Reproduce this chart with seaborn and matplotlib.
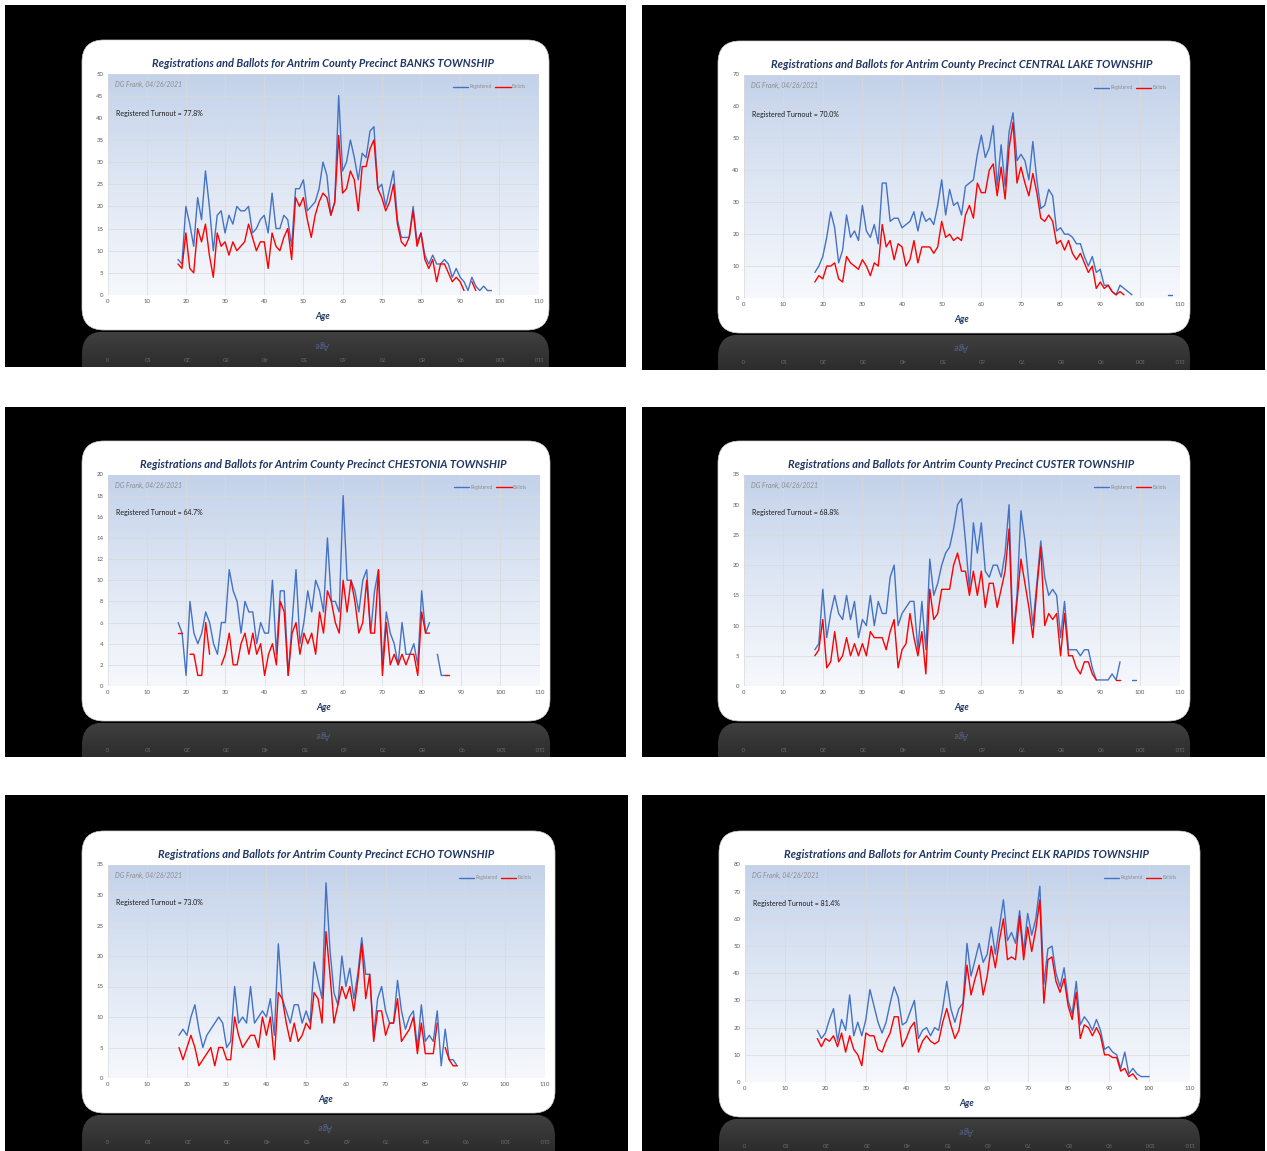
import numpy as np
import pandas as pd
import matplotlib
matplotlib.use("Agg")
import matplotlib.pyplot as plt
from matplotlib.patches import Rectangle, FancyBboxPatch
from matplotlib.lines import Line2D
from matplotlib.colors import LinearSegmentedColormap
import seaborn as sns

# ---- data (ages start at 18, None = no point) ----
START_AGE = 18

banks_registered = [8, 7, 20, 16, 11, 22, 17, 28, 20, 10,
                    18, 19, 14, 18, 16, 20, 19, 19, 20, 14,
                    15, 17, 18, 14, 23, 15, 15, 18, 17, 11,
                    24, 24, 26, 19, 20, 21, 24, 30, 27, 18,
                    21, 45, 28, 30, 35, 31, 26, 32, 31, 37,
                    38, 24, 25, 20, 24, 28, 17, 13, 13, 13,
                    20, 12, 14, 9, 7, 9, 7, 7, 8, 7,
                    4, 6, 4, 3, 1, 4, 2, 1, 2, 1, 1]
banks_ballots = [7, 6, 14, 6, 5, 15, 12, 16, 9, 4,
                 14, 11, 12, 9, 12, 10, 11, 12, 16, 13,
                 10, 12, 12, 6, 14, 11, 10, 13, 15, 8,
                 22, 20, 22, 17, 13, 18, 21, 23, 22, 18,
                 21, 36, 23, 24, 28, 26, 19, 29, 29, 33,
                 35, 24, 22, 19, 21, 25, 16, 12, 11, 13,
                 19, 11, 14, 8, 6, 8, 3, 7, 7, 5,
                 3, 4, 3, 1, None, 3, 1]

central_registered = [8, 10, 13, 19, 27, 22, 11, 15, 26, 19,
                      21, 18, 29, 21, 19, 23, 17, 36, 36, 24,
                      25, 25, 22, 23, 24, 27, 21, 27, 24, 25,
                      23, 29, 37, 26, 34, 29, 30, 26, 35, 36,
                      37, 45, 51, 44, 47, 54, 35, 48, 35, 52,
                      58, 43, 45, 43, 37, 49, 37, 28, 29, 34,
                      32, 21, 22, 20, 20, 19, 17, 17, 13, 10,
                      13, 8, 9, 4, 4, 2, 1, 4, 3, 2, 1,
                      None, None, None, None, None, None, None, None, 1, 1]
central_ballots = [5, 7, 6, 10, 10, 11, 6, 5, 13, 11,
                   10, 9, 12, 10, 7, 11, 10, 23, 16, 18,
                   12, 17, 16, 10, 12, 18, 11, 16, 16, 16,
                   14, 16, 24, 19, 20, 18, 19, 18, 26, 29,
                   25, 36, 33, 33, 40, 42, 32, 41, 31, 47,
                   55, 36, 41, 36, 32, 39, 33, 25, 24, 26,
                   24, 17, 18, 15, 18, 14, 12, 14, 11, 8,
                   10, 3, 5, 3, 4, 2, 1, 2, 1]

chestonia_registered = [6, 5, 1, 8, 5, 4, 5, 7, 6, 4,
                        3, 6, 6, 11, 9, 8, 5, 8, 7, 7,
                        4, 6, 5, 5, 10, 3, 9, 9, 1, 6,
                        11, 4, 6, 9, 7, 10, 9, 7, 14, 8,
                        8, 7, 18, 10, 10, 9, 7, 10, 11, 5,
                        9, 11, 2, 7, 5, 4, 2, 6, 3, 3,
                        4, 2, 9, 5, 6, None, 3, 1, 1]
chestonia_ballots = [5, 5, None, 3, 3, 1, 1, 6, 3, None,
                     None, 2, 3, 5, 2, 2, 4, 5, 3, 5,
                     3, 4, 1, 3, 4, 2, 8, 7, 1, 5,
                     6, 3, 5, 4, 5, 3, 7, 5, 9, 8,
                     6, 5, 10, 7, 10, 8, 5, 6, 10, 5,
                     5, 11, 1, 6, 2, 3, 2, 3, 2, 3,
                     3, 1, 7, 5, 5, None, None, None, 1, 1]

custer_registered = [6, 7, 16, 8, 12, 15, 12, 11, 15, 11,
                     14, 8, 11, 10, 15, 10, 14, 12, 12, 18,
                     20, 10, 12, 13, 14, 14, 6, 14, 6, 21,
                     15, 17, 20, 22, 23, 26, 30, 31, 24, 16,
                     27, 22, 27, 19, 18, 20, 20, 18, 22, 30,
                     8, 15, 29, 24, 17, 10, 17, 24, 18, 15,
                     16, 15, 8, 14, 6, 6, 6, 5, 6, 6,
                     3, 1, 1, 1, 1, 2, 1, 4, None, None, 1, 1]
custer_ballots = [5, 6, 11, 3, 4, 9, 4, 5, 8, 5,
                  7, 5, 7, 5, 9, 8, 8, 8, 6, 9,
                  11, 3, 6, 7, 12, 8, 5, 9, 2, 16,
                  11, 12, 16, 16, 16, 20, 22, 19, 19, 15,
                  19, 15, 19, 13, 17, 17, 13, 16, 19, 26,
                  7, 14, 21, 17, 13, 8, 16, 23, 10, 12,
                  11, 12, 5, 12, 5, 5, 3, 2, 4, 4,
                  2, 1, None, None, None, None, 1, 1]

echo_registered = [7, 8, 7, 10, 12, 8, 5, 7, 8, 9,
                   10, 9, 5, 6, 15, 9, 10, 9, 15, 9,
                   10, 11, 10, 13, 7, 22, 13, 11, 9, 12,
                   12, 9, 11, 9, 19, 16, 13, 32, 21, 14,
                   12, 20, 15, 18, 13, 17, 23, 17, 17, 7,
                   13, 15, 11, 9, 9, 16, 11, 8, 10, 11,
                   5, 12, 6, 7, 6, 11, 2, 8, 3, 3, 2]
echo_ballots = [5, 3, 5, 7, 5, 2, 3, 4, 5, 2,
                5, 5, 3, 3, 10, 7, 5, 6, 7, 7,
                5, 10, 7, 10, 3, 14, 13, 9, 6, 9,
                6, 7, 9, 8, 14, 13, 9, 24, 17, 9,
                12, 15, 13, 15, 11, 16, 22, 13, 17, 6,
                11, 11, 7, 9, 9, 13, 6, 7, 8, 10,
                4, 9, 4, 4, 4, 9, None, 5, 3, 2, 2]

elk_registered = [19, 16, 18, 23, 27, 15, 23, 19, 32, 17,
                  22, 17, 23, 34, 28, 22, 18, 22, 29, 35,
                  31, 21, 22, 26, 30, 16, 19, 20, 17, 20,
                  19, 27, 37, 27, 22, 27, 29, 51, 39, 45,
                  51, 44, 47, 57, 47, 57, 67, 52, 55, 51,
                  63, 48, 62, 54, 60, 72, 36, 49, 50, 40,
                  35, 42, 30, 25, 37, 21, 24, 22, 19, 23,
                  19, 12, 13, 11, 10, 5, 11, 3, 5, 3, 2, 2, 2]
elk_ballots = [16, 13, 16, 15, 17, 13, 18, 11, 17, 12,
               10, 6, 18, 17, 17, 12, 11, 15, 18, 24,
               24, 13, 16, 20, 22, 11, 15, 17, 15, 14,
               15, 22, 27, 21, 16, 19, 28, 43, 32, 38,
               43, 32, 39, 50, 42, 52, 60, 45, 46, 45,
               61, 45, 57, 48, 56, 67, 29, 45, 46, 37,
               33, 38, 28, 23, 33, 16, 21, 20, 17, 20,
               17, 10, 10, 9, 9, 4, 5, 2, 3, 1]

precincts = ["BANKS", "CENTRAL LAKE", "CHESTONIA", "CUSTER", "ECHO", "ELK RAPIDS"]
turnouts = ["77.8%", "70.0%", "64.7%", "68.8%", "73.0%", "81.4%"]
y_max = [50, 70, 20, 35, 35, 80]
y_step = [5, 10, 2, 5, 5, 10]
registered = [banks_registered, central_registered, chestonia_registered,
              custer_registered, echo_registered, elk_registered]
ballots = [banks_ballots, central_ballots, chestonia_ballots,
           custer_ballots, echo_ballots, elk_ballots]

# ---- layout in reference pixels: black slide, white card ----
W, H = 1267, 1151
slides = [(5, 5, 626, 367), (642, 5, 1265, 370),
          (5, 407, 626, 757), (642, 407, 1265, 757),
          (5, 795, 628, 1151), (642, 795, 1265, 1151)]
cards = [(82, 40, 549, 330), (718, 41, 1190, 333),
         (82, 441, 550, 721), (718, 441, 1190, 721),
         (82, 831, 555, 1113), (719, 831, 1200, 1117)]

BLUE = "#4472C4"
RED = "#FF0000"
NAVY = "#1F3864"
FONTS = ["Lato", "DejaVu Sans"]

sns.set_style("white")
plt.rcParams["font.family"] = FONTS


def fig_box(l, t, r, b):
    return [l / W, 1 - b / H, (r - l) / W, (b - t) / H]


def to_frame(values):
    ages = np.arange(START_AGE, START_AGE + len(values))
    vals = np.array([np.nan if v is None else v for v in values], dtype=float)
    seg = np.cumsum(np.isnan(vals))
    df = pd.DataFrame({"age": ages, "count": vals, "seg": seg})
    return df.dropna()


grad_cmap = LinearSegmentedColormap.from_list("bg", ["#f6f8fc", "#dfe7f4", "#c3d2ea"])
refl_cmap = LinearSegmentedColormap.from_list("refl", ["#2c2c2c", "#363636", "#404040"])

fig = plt.figure(figsize=(W / 100, H / 100), dpi=100)
fig.patch.set_facecolor("white")

for i in range(6):
    sl, st, sr, sb = slides[i]
    cl, ct, cr, cb = cards[i]

    # black slide background
    fig.add_artist(Rectangle((sl / W, 1 - sb / H), (sr - sl) / W, (sb - st) / H,
                             transform=fig.transFigure, facecolor="black",
                             edgecolor="none", zorder=0))
    # white rounded card
    fig.add_artist(FancyBboxPatch((cl / 100, (H - cb) / 100), (cr - cl) / 100, (cb - ct) / 100,
                                  boxstyle="round,pad=0,rounding_size=0.22",
                                  transform=fig.dpi_scale_trans, facecolor="white",
                                  edgecolor="#d0d0d0", lw=0.5, zorder=1))

    pl, pr = cl + 25.5, cr - 10.5
    pt, pb = ct + 33.5, cb - 35

    ax = fig.add_axes(fig_box(pl, pt, pr, pb))
    ax.set_zorder(2)
    ax.patch.set_alpha(0)
    ax.imshow(np.linspace(0, 1, 256).reshape(-1, 1)[::-1], cmap=grad_cmap,
              extent=(0, 110, 0, y_max[i]), aspect="auto", zorder=0)

    reg = to_frame(registered[i])
    bal = to_frame(ballots[i])
    sns.lineplot(data=reg, x="age", y="count", units="seg", estimator=None,
                 color=BLUE, lw=1.0, ax=ax, legend=False, zorder=3)
    sns.lineplot(data=bal, x="age", y="count", units="seg", estimator=None,
                 color=RED, lw=1.0, ax=ax, legend=False, zorder=4)

    ax.set_xlim(0, 110)
    ax.set_ylim(0, y_max[i])
    ax.set_xticks(range(0, 111, 10))
    ax.set_yticks(range(0, y_max[i] + 1, y_step[i]))
    ax.grid(True, color="#d9d9d9", lw=0.6, alpha=0.8, zorder=1)
    ax.set_axisbelow(False)
    for sp in ax.spines.values():
        sp.set_visible(False)
    ax.tick_params(length=0, labelsize=4.3, colors="#595959", pad=3)
    ax.set_xlabel("")
    ax.set_ylabel("")

    ax.text(0.017, 0.95, "DG Frank, 04/26/2021", transform=ax.transAxes,
            fontsize=4.9, style="italic", color="#8c8c8c", va="center", zorder=5)
    ax.text(0.02, 0.82, "Registered Turnout = " + turnouts[i], transform=ax.transAxes,
            fontsize=5.0, color="#1a1a1a", va="center", zorder=5)

    handles = [Line2D([], [], color=BLUE, lw=1.0), Line2D([], [], color=RED, lw=1.0)]
    ax.legend(handles, ["Registered", "Ballots"], loc="upper right", ncol=2,
              frameon=False, fontsize=3.4, labelcolor="#8c8c8c", handlelength=3.2,
              handletextpad=0.2, columnspacing=0.8, bbox_to_anchor=(0.98, 0.97))

    cx = (pl + pr) / 2
    fig.text(cx / W, 1 - (ct + 23.5) / H,
             "Registrations and Ballots for Antrim County Precinct " + precincts[i] + " TOWNSHIP",
             ha="center", va="center", fontsize=8.0, fontweight="bold", style="italic",
             color=NAVY, zorder=5)
    fig.text(cx / W, 1 - (pb + 21) / H, "Age", ha="center", va="center",
             fontsize=6.5, fontweight="bold", style="italic", color=NAVY, zorder=5)

    # reflection under the card
    rt = cb + 1.5
    rw, rh = cr - cl, sb - rt
    axr = fig.add_axes(fig_box(cl, rt, cr, sb))
    axr.set_zorder(2)
    axr.set_xlim(0, rw)
    axr.set_ylim(rh, 0)
    axr.axis("off")
    im = axr.imshow(np.linspace(0, 1, 64).reshape(-1, 1)[::-1], cmap=refl_cmap,
                    extent=(0, rw, rh, 0), aspect="auto")
    clip = FancyBboxPatch((0, 0), rw, rh + 40, boxstyle="round,pad=0,rounding_size=22",
                          transform=axr.transData, facecolor="none", edgecolor="none")
    axr.add_patch(clip)
    im.set_clip_path(clip)
    axr.text(cx - cl, (cb - (pb + 21)) - 1.5, "Age", ha="center", va="center", rotation=180,
             fontsize=6.5, fontweight="bold", style="italic", color="#4d5a78")
    for v in range(0, 111, 10):
        xp = pl + v / 110 * (pr - pl) - cl
        axr.text(xp, (cb - (pb + 8)) - 1.5, str(v), ha="center", va="center", rotation=180,
                 fontsize=4.3, color="#6a6a6a", clip_on=True)

fig.savefig("out.png", dpi=100, facecolor="white")
